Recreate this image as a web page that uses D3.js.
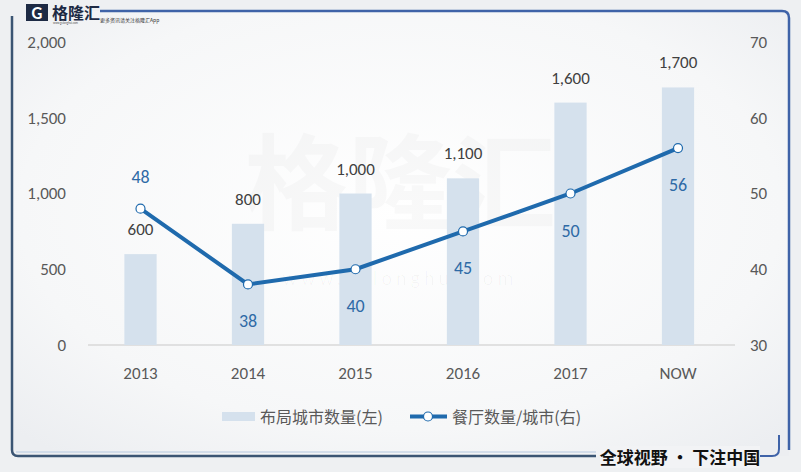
<!DOCTYPE html>
<html>
<head>
<meta charset="utf-8">
<title>布局城市数量与餐厅数量</title>
<script src="https://d3js.org/d3.v7.min.js"></script>
<style>
  body { margin: 0; background: #f2f3f5; }
  text { font-family: Calibri, Carlito, Lato, "Noto Sans", "Noto Sans CJK SC", sans-serif; }
</style>
</head>
<body>
<script>

// data
var years = ["2013", "2014", "2015", "2016", "2017", "NOW"];
var cities = [600, 800, 1000, 1100, 1600, 1700];      // 布局城市数量(左)
var perCity = [48, 38, 40, 45, 50, 56];              // 餐厅数量/城市(右)
var leftTicks = [0, 500, 1000, 1500, 2000];
var rightTicks = [30, 40, 50, 60, 70];

var W = 801, H = 472;
var plotTop = 42, plotBottom = 345;

var svg = d3.select("body").append("svg")
    .attr("width", W)
    .attr("height", H);

var defs = svg.append("defs");
var bg = defs.append("radialGradient").attr("id", "bg")
    .attr("cx", "50%").attr("cy", "45%").attr("r", "70%");
bg.append("stop").attr("offset", "0%").attr("stop-color", "#ffffff");
bg.append("stop").attr("offset", "70%").attr("stop-color", "#f6f7f8");
bg.append("stop").attr("offset", "100%").attr("stop-color", "#eceef1");

svg.append("rect").attr("width", W).attr("height", H).attr("fill", "#eef0f2");
svg.append("rect").attr("x", 12).attr("y", 11).attr("width", 777).attr("height", 445)
    .attr("fill", "url(#bg)");

// frame
svg.append("path")
    .attr("d", "M100,11 H782 Q789,11 789,18 V450")
    .attr("fill", "none").attr("stroke", "#3f63a8").attr("stroke-width", 2.5);
svg.append("path")
    .attr("d", "M12,16 V450 Q12,456 18,456 H596")
    .attr("fill", "none").attr("stroke", "#3b5573").attr("stroke-width", 2.5);
svg.append("path")
    .attr("d", "M16,452 H596")
    .attr("fill", "none").attr("stroke", "#c9d6e6").attr("stroke-width", 1.5);
svg.append("path")
    .attr("d", "M760,456 H772 Q779,456 779,449 V435")
    .attr("fill", "none").attr("stroke", "#3f63a8").attr("stroke-width", 2);

// logo
var logo = svg.append("g");
logo.append("rect").attr("x", 26).attr("y", 4).attr("width", 22).attr("height", 17)
    .attr("fill", "#1d2a44");
logo.append("text").attr("x", 37).attr("y", 19).attr("text-anchor", "middle")
    .attr("fill", "#ffffff").attr("font-size", 17).attr("font-weight", "bold").text("G");
logo.append("text").attr("x", 52).attr("y", 19)
    .style("font-family", "'Noto Sans CJK SC', sans-serif")
    .attr("fill", "#1d2a44").attr("font-size", 16).attr("font-weight", "bold").text("格隆汇");
logo.append("text").attr("x", 53).attr("y", 24)
    .attr("fill", "#555").attr("font-size", 3).text("www.gelonghui.com");
logo.append("text").attr("x", 100).attr("y", 22)
    .style("font-family", "'Noto Sans CJK SC', sans-serif")
    .attr("fill", "#333").attr("font-size", 5).text("更多资讯请关注格隆汇App");

// watermark
svg.append("text").attr("x", 400).attr("y", 222).attr("text-anchor", "middle")
    .style("font-family", "'Noto Sans CJK SC', sans-serif")
    .attr("fill", "#000").attr("fill-opacity", 0.025)
    .attr("font-size", 104).attr("font-weight", "bold").text("格隆汇");
svg.append("text").attr("x", 400).attr("y", 285).attr("text-anchor", "middle")
    .attr("fill", "#000").attr("fill-opacity", 0.03)
    .attr("font-size", 20).attr("letter-spacing", 4).text("www.gelonghui.com");

// scales
var x = d3.scaleBand().domain(years).range([86.75, 731.75]).paddingInner(0.7).paddingOuter(0.35);
var yL = d3.scaleLinear().domain([0, 2000]).range([plotBottom, plotTop]);
var yR = d3.scaleLinear().domain([30, 70]).range([plotBottom, plotTop]);
var cx = function(d) { return x(d) + x.bandwidth() / 2; };

// baseline
svg.append("line")
    .attr("x1", 88).attr("x2", 735).attr("y1", plotBottom).attr("y2", plotBottom)
    .attr("stroke", "#d9d9d9").attr("stroke-width", 1.5);

// axes
var leftAxis = svg.append("g")
    .attr("transform", "translate(66,0)")
    .call(d3.axisLeft(yL).tickValues(leftTicks).tickSize(0).tickPadding(0).tickFormat(d3.format(",")));
var rightAxis = svg.append("g")
    .attr("transform", "translate(750,0)")
    .call(d3.axisRight(yR).tickValues(rightTicks).tickSize(0).tickPadding(0));
var xAxis = svg.append("g")
    .attr("transform", "translate(0," + plotBottom + ")")
    .call(d3.axisBottom(x).tickSize(0).tickPadding(22));
[leftAxis, rightAxis, xAxis].forEach(function(a) {
    a.select(".domain").remove();
    a.selectAll("text").attr("font-size", 17).attr("fill", "#595959")
        .style("font-family", "Calibri, Carlito, Lato, 'Noto Sans', sans-serif");
});
xAxis.selectAll("text").attr("dy", "0.71em");

// bars
svg.selectAll(".bar")
    .data(cities)
    .enter().append("rect")
    .attr("class", "bar")
    .attr("x", function(d, i) { return x(years[i]); })
    .attr("width", x.bandwidth())
    .attr("y", function(d) { return yL(d); })
    .attr("height", function(d) { return plotBottom - yL(d); })
    .attr("fill", "#d5e1ed");

svg.selectAll(".barlabel")
    .data(cities)
    .enter().append("text")
    .attr("class", "barlabel")
    .attr("x", function(d, i) { return cx(years[i]); })
    .attr("y", function(d) { return yL(d) - 19; })
    .attr("text-anchor", "middle")
    .attr("font-size", 17).attr("fill", "#404040")
    .text(function(d) { return d3.format(",")(d); });

// line
var line = d3.line()
    .x(function(d, i) { return cx(years[i]); })
    .y(function(d) { return yR(d); });
svg.append("path")
    .datum(perCity)
    .attr("d", line)
    .attr("fill", "none").attr("stroke", "#1f6aad").attr("stroke-width", 4);

svg.selectAll(".pt")
    .data(perCity)
    .enter().append("circle")
    .attr("class", "pt")
    .attr("cx", function(d, i) { return cx(years[i]); })
    .attr("cy", function(d) { return yR(d); })
    .attr("r", 4.5)
    .attr("fill", "#ffffff").attr("stroke", "#1f6aad").attr("stroke-width", 1.2);

svg.selectAll(".ptlabel")
    .data(perCity)
    .enter().append("text")
    .attr("class", "ptlabel")
    .attr("x", function(d, i) { return cx(years[i]); })
    .attr("y", function(d, i) { return i === 0 ? yR(d) - 26 : yR(d) + 43; })
    .attr("text-anchor", "middle")
    .attr("font-size", 18).attr("fill", "#2e6aa6")
    .text(function(d) { return d; });

// legend
var legend = svg.append("g");
legend.append("rect").attr("x", 222).attr("y", 412).attr("width", 33).attr("height", 9)
    .attr("fill", "#d5e1ed");
legend.append("text").attr("x", 260).attr("y", 423).attr("font-size", 16).attr("fill", "#595959")
    .style("font-family", "'Noto Sans CJK SC', sans-serif").text("布局城市数量(左)");
legend.append("line").attr("x1", 410).attr("x2", 447).attr("y1", 416.5).attr("y2", 416.5)
    .attr("stroke", "#1f6aad").attr("stroke-width", 4);
legend.append("circle").attr("cx", 428).attr("cy", 416.5).attr("r", 4.5)
    .attr("fill", "#fff").attr("stroke", "#1f6aad").attr("stroke-width", 1.2);
legend.append("text").attr("x", 452).attr("y", 423).attr("font-size", 16).attr("fill", "#595959")
    .style("font-family", "'Noto Sans CJK SC', sans-serif").text("餐厅数量/城市(右)");

// slogan
svg.append("rect").attr("x", 600).attr("y", 446).attr("width", 160).attr("height", 22).attr("fill", "#f2f3f5");
svg.append("text").attr("x", 680).attr("y", 464).attr("text-anchor", "middle")
    .style("font-family", "'Noto Sans CJK SC', sans-serif")
    .attr("font-size", 17).attr("font-weight", "bold").attr("fill", "#111")
    .text("全球视野 · 下注中国");

</script>
</body>
</html>
